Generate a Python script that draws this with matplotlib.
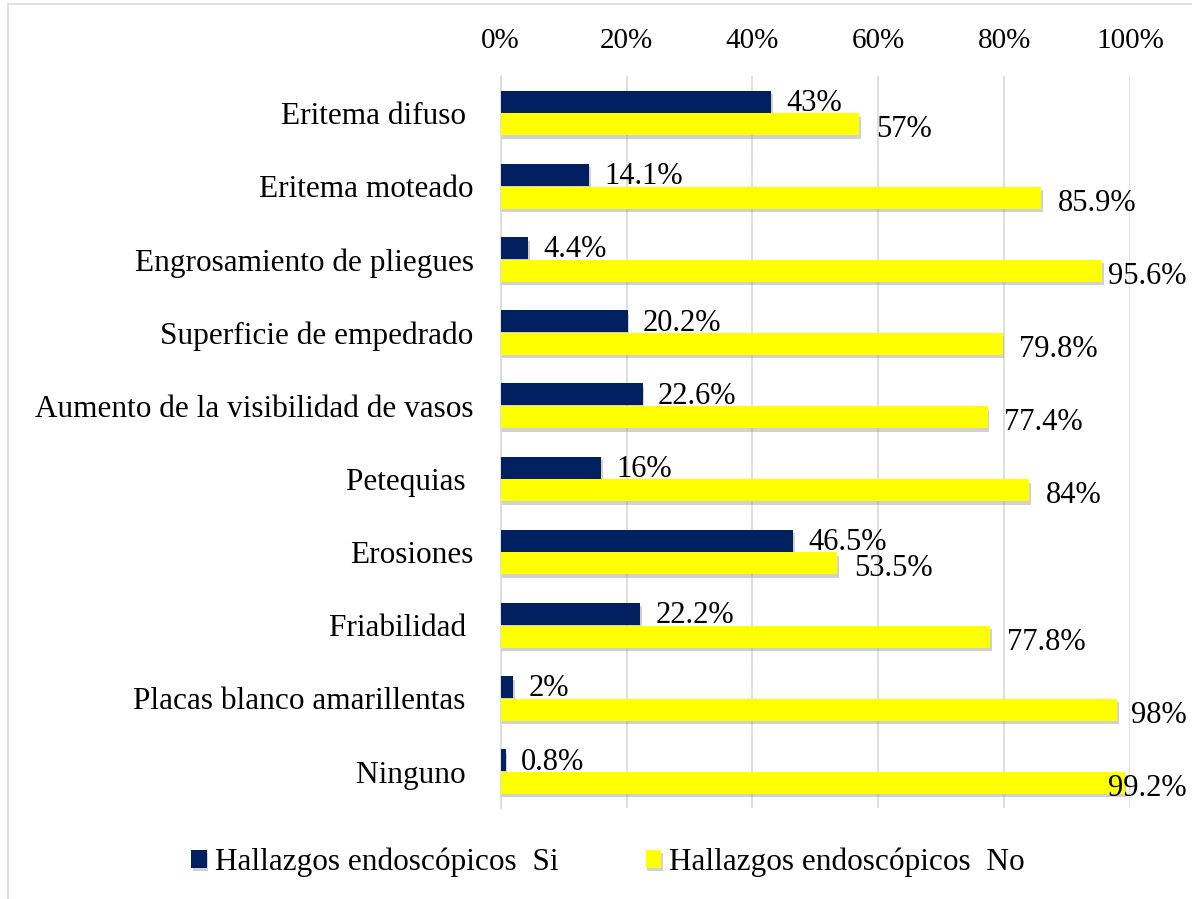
import matplotlib.pyplot as plt
import matplotlib.patheffects as pe
from matplotlib.patches import Rectangle
import numpy as np

# Datos del gráfico
categorias = ["Eritema difuso ", "Eritema moteado", "Engrosamiento de pliegues",
              "Superficie de empedrado", "Aumento de la visibilidad de vasos",
              "Petequias ", "Erosiones", "Friabilidad ", "Placas blanco amarillentas ",
              "Ninguno "]
si_vals = [43, 14.1, 4.4, 20.2, 22.6, 16, 46.5, 22.2, 2, 0.8]
no_vals = [57, 85.9, 95.6, 79.8, 77.4, 84, 53.5, 77.8, 98, 99.2]
si_txt = ["43%", "14.1%", "4.4%", "20.2%", "22.6%", "16%", "46.5%", "22.2%", "2%", "0.8%"]
no_txt = ["57%", "85.9%", "95.6%", "79.8%", "77.4%", "84%", "53.5%", "77.8%", "98%", "99.2%"]
ticks = [0, 20, 40, 60, 80, 100]
tick_txt = ["0%", "20%", "40%", "60%", "80%", "100%"]

plt.rcParams['font.family'] = ['Liberation Serif', 'DejaVu Serif']

fig = plt.figure(figsize=(11.92, 8.99), dpi=100)
ax = fig.add_axes([0.420, 0.101, 0.528, 0.814])

y = np.arange(len(categorias))
h = 0.30
sombra = [pe.SimplePatchShadow(offset=(1, -2.5), shadow_rgbFace='#999999', alpha=0.45), pe.Normal()]

b1 = ax.barh(y - 0.155, si_vals, height=h, color='#002060', label='Hallazgos endoscópicos  Si', zorder=3)
b2 = ax.barh(y + 0.155, no_vals, height=h, color='#FFFF00', label='Hallazgos endoscópicos  No', zorder=3)
for b in list(b1) + list(b2):
    b.set_path_effects(sombra)

ax.set_xlim(0, 100)
ax.set_ylim(len(categorias) - 0.5, -0.5)

# Etiquetas de los valores
for i in range(len(categorias)):
    ax.text(si_vals[i] + 2.4, y[i] - 0.13, si_txt[i], va='center', ha='left', fontsize=22, zorder=4)

fig.canvas.draw()
r = fig.canvas.get_renderer()
limite = 109.0  # borde derecho de la figura en unidades de datos (aprox.)
for i in range(len(categorias)):
    t = ax.text(no_vals[i] + 2.6, y[i] + 0.23, no_txt[i], va='center', ha='left', fontsize=22, zorder=4)
    bb = t.get_window_extent(r).transformed(ax.transData.inverted())
    ancho = bb.x1 - bb.x0
    if no_vals[i] + 2.6 + ancho > limite:
        t.set_x(limite - ancho)

ax.set_yticks(y)
ax.set_yticklabels(categorias, fontsize=22.5)
ax.set_xticks(ticks)
ax.set_xticklabels(tick_txt, fontsize=21)
ax.xaxis.tick_top()
ax.tick_params(axis='both', length=0)
ax.tick_params(axis='y', pad=19.5)
ax.tick_params(axis='x', pad=16)

ax.grid(axis='x', color='#d9d9d9', linewidth=1.2, zorder=0)
for s in ['top', 'right', 'bottom']:
    ax.spines[s].set_visible(False)
ax.spines['left'].set_color('#d9d9d9')
ax.spines['left'].set_linewidth(1.2)

ax.legend(loc='center', bbox_to_anchor=(0.51, 0.041), bbox_transform=fig.transFigure,
          frameon=False, ncol=2, fontsize=22.5, handlelength=0.5, handleheight=0.5,
          handletextpad=0.25, columnspacing=2.8)

# Borde del área del gráfico
fig.patches.append(Rectangle((8 / 1192, -0.01), 1.1, 1.0 - 4 / 899 + 0.01, transform=fig.transFigure,
                             fill=False, edgecolor='#d9d9d9', linewidth=1.2))

fig.savefig('out.png', dpi=100)
